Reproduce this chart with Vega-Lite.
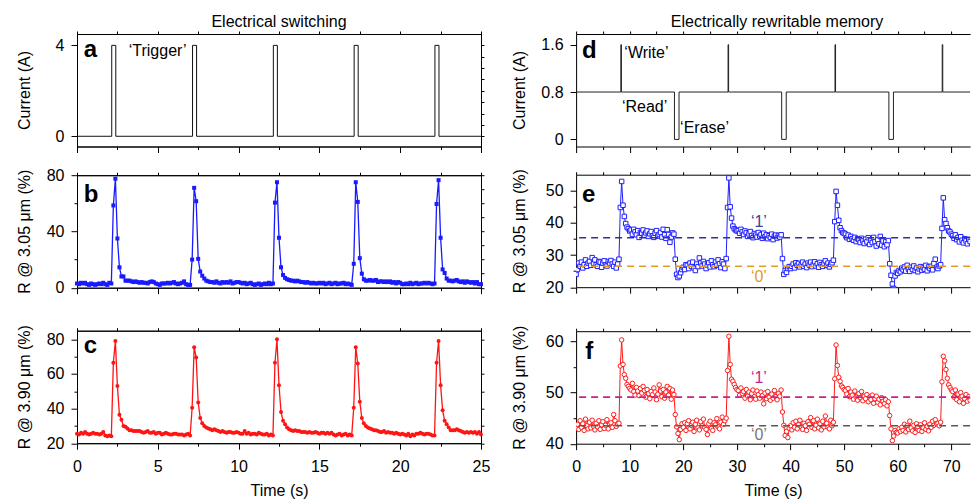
{
"$schema":"https://vega.github.io/schema/vega-lite/v6.json",
"padding":{"left":15,"top":13,"right":0,"bottom":0},
"config":{"font":"Liberation Sans","view":{"stroke":"black","strokeWidth":1},
"axis":{"labelFont":"Liberation Sans","labelFontSize":16,"titleFont":"Liberation Sans","titleFontSize":16,"titleFontWeight":"normal","labelColor":"black","titleColor":"black","domainColor":"black","tickColor":"black","grid":false,"labelFlush":false,"labelOverlap":false,"tickSize":6,"labelPadding":7,"minExtent":0},
"text":{"font":"Liberation Sans"},"title":{"font":"Liberation Sans"}},
"datasets":{
"pa":[{"t":0,"i":0},{"t":2.15,"i":4},{"t":2.4,"i":0},{"t":7.15,"i":4},{"t":7.4,"i":0},{"t":12.15,"i":4},{"t":12.4,"i":0},{"t":17.15,"i":4},{"t":17.4,"i":0},{"t":22.15,"i":4},{"t":22.4,"i":0},{"t":25,"i":0}],
"pd":[{"t":0,"i":0.8},{"t":8.35,"i":1.6},{"t":8.45,"i":0.8},{"t":18.35,"i":0},{"t":19.2,"i":0.8},{"t":28.35,"i":1.6},{"t":28.45,"i":0.8},{"t":38.35,"i":0},{"t":39.2,"i":0.8},{"t":48.3,"i":1.6},{"t":48.4,"i":0.8},{"t":58.35,"i":0},{"t":59.2,"i":0.8},{"t":68.3,"i":1.6},{"t":68.4,"i":0.8},{"t":73.5,"i":0.8}],
"lt":[
{"t":0,"b":3,"c":25.5},{"t":0.125,"b":2.5,"c":25},{"t":0.25,"b":3.5,"c":26},{"t":0.375,"b":3,"c":25.5},{"t":0.5,"b":3.5,"c":26.5},{"t":0.625,"b":2.5,"c":25.5},{"t":0.75,"b":2,"c":25},{"t":0.875,"b":3,"c":25.5},
{"t":1,"b":2.5,"c":26},{"t":1.125,"b":2,"c":25.5},{"t":1.25,"b":2.5,"c":25.5},{"t":1.375,"b":3,"c":25},{"t":1.5,"b":2.5,"c":25.5},{"t":1.625,"b":3.5,"c":26.5},{"t":1.75,"b":2.5,"c":24.5},{"t":1.875,"b":2,"c":24},
{"t":2,"b":3.5,"c":24.5},{"t":2.125,"b":3,"c":24},{"t":2.25,"b":58.5,"c":66.5},{"t":2.375,"b":77.5,"c":79},{"t":2.5,"b":35,"c":53},{"t":2.625,"b":14.5,"c":36.5},{"t":2.75,"b":8,"c":33.5},{"t":2.875,"b":8,"c":30},
{"t":3,"b":5,"c":29.5},{"t":3.125,"b":5,"c":28.5},{"t":3.25,"b":5,"c":27.5},{"t":3.375,"b":4.5,"c":27.5},{"t":3.5,"b":4,"c":27},{"t":3.625,"b":4.5,"c":27},{"t":3.75,"b":4,"c":27},{"t":3.875,"b":3.5,"c":27},
{"t":4,"b":4,"c":26.5},{"t":4.125,"b":3.5,"c":26},{"t":4.25,"b":3.5,"c":26.5},{"t":4.375,"b":3,"c":27},{"t":4.5,"b":4,"c":26},{"t":4.625,"b":4.5,"c":26},{"t":4.75,"b":4,"c":26.5},{"t":4.875,"b":3,"c":25.5},
{"t":5,"b":2.5,"c":26},{"t":5.125,"b":2,"c":26},{"t":5.25,"b":3,"c":25},{"t":5.375,"b":3,"c":25.5},{"t":5.5,"b":3,"c":26},{"t":5.625,"b":3.5,"c":25.5},{"t":5.75,"b":3,"c":25},{"t":5.875,"b":3.5,"c":25},
{"t":6,"b":4,"c":25.5},{"t":6.125,"b":3,"c":25.5},{"t":6.25,"b":2.5,"c":25},{"t":6.375,"b":3,"c":25},{"t":6.5,"b":3.5,"c":25},{"t":6.625,"b":4.5,"c":24.5},{"t":6.75,"b":2.5,"c":25},{"t":6.875,"b":2,"c":25.5},
{"t":7,"b":2,"c":24.5},{"t":7.125,"b":20,"c":40.5},{"t":7.25,"b":71,"c":75.5},{"t":7.375,"b":61.5,"c":69.5},{"t":7.5,"b":20.5,"c":43.5},{"t":7.625,"b":11.5,"c":34.5},{"t":7.75,"b":8.5,"c":31.5},{"t":7.875,"b":6.5,"c":30},
{"t":8,"b":5,"c":29},{"t":8.125,"b":4.5,"c":28.5},{"t":8.25,"b":4,"c":28},{"t":8.375,"b":4,"c":27.5},{"t":8.5,"b":3.5,"c":28},{"t":8.625,"b":4.5,"c":27.5},{"t":8.75,"b":3.5,"c":27},{"t":8.875,"b":3,"c":26.5},
{"t":9,"b":4,"c":27},{"t":9.125,"b":3.5,"c":26.5},{"t":9.25,"b":4,"c":26},{"t":9.375,"b":3.5,"c":26.5},{"t":9.5,"b":4.5,"c":26.5},{"t":9.625,"b":3,"c":26},{"t":9.75,"b":3.5,"c":26},{"t":9.875,"b":4,"c":26.5},
{"t":10,"b":4,"c":26},{"t":10.125,"b":3.5,"c":25.5},{"t":10.25,"b":3,"c":25.5},{"t":10.375,"b":3.5,"c":27},{"t":10.5,"b":2.5,"c":25.5},{"t":10.625,"b":3,"c":26},{"t":10.75,"b":3.5,"c":25},{"t":10.875,"b":2.5,"c":25.5},
{"t":11,"b":2,"c":25.5},{"t":11.125,"b":2.5,"c":25},{"t":11.25,"b":3,"c":26},{"t":11.375,"b":2,"c":25.5},{"t":11.5,"b":2.5,"c":25},{"t":11.625,"b":3,"c":25},{"t":11.75,"b":2.5,"c":25.5},{"t":11.875,"b":3.5,"c":24.5},
{"t":12,"b":2.5,"c":25},{"t":12.125,"b":3,"c":24.5},{"t":12.25,"b":60.5,"c":66.5},{"t":12.375,"b":75,"c":80},{"t":12.5,"b":35.5,"c":53.5},{"t":12.625,"b":14.5,"c":38},{"t":12.75,"b":9,"c":33},{"t":12.875,"b":7,"c":31},
{"t":13,"b":6,"c":29},{"t":13.125,"b":5.5,"c":28},{"t":13.25,"b":5,"c":27.5},{"t":13.375,"b":5,"c":27},{"t":13.5,"b":4.5,"c":27.5},{"t":13.625,"b":5,"c":27},{"t":13.75,"b":4.5,"c":27},{"t":13.875,"b":4,"c":26.5},
{"t":14,"b":4,"c":26.5},{"t":14.125,"b":3.5,"c":26.5},{"t":14.25,"b":4,"c":26},{"t":14.375,"b":3.5,"c":26.5},{"t":14.5,"b":3,"c":26},{"t":14.625,"b":3.5,"c":26},{"t":14.75,"b":3,"c":26.5},{"t":14.875,"b":3,"c":26},
{"t":15,"b":3.5,"c":25.5},{"t":15.125,"b":3,"c":26},{"t":15.25,"b":3.5,"c":26},{"t":15.375,"b":2.5,"c":25.5},{"t":15.5,"b":3,"c":26},{"t":15.625,"b":3.5,"c":25.5},{"t":15.75,"b":2.5,"c":26},{"t":15.875,"b":3,"c":25},
{"t":16,"b":3.5,"c":24.5},{"t":16.125,"b":2.5,"c":25},{"t":16.25,"b":3,"c":25.5},{"t":16.375,"b":3,"c":24.5},{"t":16.5,"b":3.5,"c":25},{"t":16.625,"b":2.5,"c":25.5},{"t":16.75,"b":3,"c":24.5},{"t":16.875,"b":2.5,"c":25},
{"t":17,"b":2,"c":24.5},{"t":17.125,"b":17,"c":40.5},{"t":17.25,"b":75,"c":75.5},{"t":17.375,"b":61,"c":66},{"t":17.5,"b":21,"c":44},{"t":17.625,"b":10,"c":34.5},{"t":17.75,"b":6,"c":31.5},{"t":17.875,"b":5,"c":30},
{"t":18,"b":5,"c":29},{"t":18.125,"b":5.5,"c":28.5},{"t":18.25,"b":5,"c":28},{"t":18.375,"b":5,"c":27.5},{"t":18.5,"b":5.5,"c":27.5},{"t":18.625,"b":4,"c":27},{"t":18.75,"b":4.5,"c":26.5},{"t":18.875,"b":4.5,"c":26.5},
{"t":19,"b":4,"c":27},{"t":19.125,"b":4.5,"c":26},{"t":19.25,"b":4,"c":26.5},{"t":19.375,"b":4.5,"c":26},{"t":19.5,"b":3.5,"c":26},{"t":19.625,"b":4,"c":25.5},{"t":19.75,"b":3,"c":26},{"t":19.875,"b":4,"c":25.5},
{"t":20,"b":3.5,"c":25},{"t":20.125,"b":2.5,"c":25.5},{"t":20.25,"b":2.5,"c":25},{"t":20.375,"b":3,"c":24.5},{"t":20.5,"b":2.5,"c":25.5},{"t":20.625,"b":3.5,"c":24},{"t":20.75,"b":2.5,"c":25},{"t":20.875,"b":3,"c":24.5},
{"t":21,"b":3.5,"c":25.5},{"t":21.125,"b":2.5,"c":25.5},{"t":21.25,"b":3,"c":26},{"t":21.375,"b":3,"c":25.5},{"t":21.5,"b":3.5,"c":25},{"t":21.625,"b":3,"c":25.5},{"t":21.75,"b":3.5,"c":25.5},{"t":21.875,"b":3,"c":25},
{"t":22,"b":2.5,"c":24.5},{"t":22.125,"b":3,"c":24.5},{"t":22.25,"b":59.5,"c":66.5},{"t":22.375,"b":76.5,"c":79},{"t":22.5,"b":35.5,"c":53.5},{"t":22.625,"b":13,"c":39},{"t":22.75,"b":10.5,"c":33},{"t":22.875,"b":6.5,"c":31},
{"t":23,"b":5,"c":29},{"t":23.125,"b":5,"c":27.5},{"t":23.25,"b":4.5,"c":27.5},{"t":23.375,"b":5,"c":27.5},{"t":23.5,"b":5.5,"c":28},{"t":23.625,"b":4.5,"c":27.5},{"t":23.75,"b":4,"c":27},{"t":23.875,"b":4.5,"c":26.5},
{"t":24,"b":3.5,"c":26},{"t":24.125,"b":4.5,"c":26.5},{"t":24.25,"b":4,"c":26},{"t":24.375,"b":3.5,"c":26.5},{"t":24.5,"b":4,"c":26},{"t":24.625,"b":3,"c":26.5},{"t":24.75,"b":4,"c":25.5},{"t":24.875,"b":2.5,"c":26.5},
{"t":25,"b":2.5,"c":25}],
"rt":[
{"t":0,"e":24,"f":43},{"t":0.25,"e":25.5,"f":43.8},{"t":0.5,"e":27.5,"f":42.8},{"t":0.75,"e":26.5,"f":44.5},{"t":1,"e":27.8,"f":43.2},{"t":1.25,"e":26,"f":43.9},{"t":1.5,"e":27,"f":42.6},{"t":1.75,"e":28.5,"f":44.8},
{"t":2,"e":26.5,"f":43.5},{"t":2.25,"e":27.5,"f":42.9},{"t":2.5,"e":28,"f":44.2},{"t":2.75,"e":26.8,"f":43.1},{"t":3,"e":29.2,"f":44.6},{"t":3.25,"e":27.5,"f":43.4},{"t":3.5,"e":28.5,"f":42.7},{"t":3.75,"e":27,"f":44},
{"t":4,"e":26.5,"f":43.3},{"t":4.25,"e":28,"f":44.5},{"t":4.5,"e":27.8,"f":42.8},{"t":4.75,"e":26.2,"f":43.7},{"t":5,"e":27.5,"f":44.3},{"t":5.25,"e":28.2,"f":43},{"t":5.5,"e":27,"f":43.6},{"t":5.75,"e":26.6,"f":44.7},
{"t":6,"e":28,"f":42.9},{"t":6.25,"e":27.5,"f":43.8},{"t":6.5,"e":28.3,"f":44.1},{"t":6.75,"e":27.2,"f":43.2},{"t":7,"e":26.5,"f":45.7},{"t":7.25,"e":27.8,"f":44.5},{"t":7.5,"e":26,"f":43.4},{"t":7.75,"e":27.2,"f":43.9},
{"t":8,"e":28.7,"f":44},{"t":8.25,"e":44.8,"f":55.2},{"t":8.5,"e":52.9,"f":60.3},{"t":8.75,"e":45.5,"f":55.5},{"t":9,"e":42,"f":53.5},{"t":9.25,"e":39.8,"f":52.8},{"t":9.5,"e":38.7,"f":51.6},{"t":9.75,"e":38.2,"f":51.2},
{"t":10,"e":37.5,"f":50.8},{"t":10.25,"e":37.8,"f":50.5},{"t":10.5,"e":36.5,"f":51.8},{"t":10.75,"e":38,"f":50.2},{"t":11,"e":37.2,"f":49.5},{"t":11.25,"e":36.3,"f":51},{"t":11.5,"e":37.6,"f":50.3},{"t":11.75,"e":35.5,"f":49.4},
{"t":12,"e":37,"f":50.8},{"t":12.25,"e":36.8,"f":49.9},{"t":12.5,"e":37.8,"f":51.2},{"t":12.75,"e":36.2,"f":50.4},{"t":13,"e":36.9,"f":49.1},{"t":13.25,"e":37.5,"f":50.6},{"t":13.5,"e":35.8,"f":49.8},{"t":13.75,"e":36.6,"f":48.8},
{"t":14,"e":37.3,"f":50.2},{"t":14.25,"e":36,"f":49.6},{"t":14.5,"e":35.5,"f":50.9},{"t":14.75,"e":36.8,"f":50.1},{"t":15,"e":37.6,"f":48.6},{"t":15.25,"e":35.9,"f":49.7},{"t":15.5,"e":36.4,"f":51.5},{"t":15.75,"e":37,"f":50.3},
{"t":16,"e":35.6,"f":49.2},{"t":16.25,"e":38,"f":50.6},{"t":16.5,"e":36.3,"f":48.9},{"t":16.75,"e":35.2,"f":50.1},{"t":17,"e":37.9,"f":51.2},{"t":17.25,"e":36.4,"f":49.5},{"t":17.5,"e":34,"f":50.8},{"t":17.75,"e":35.6,"f":48.7},
{"t":18,"e":36.9,"f":50.5},{"t":18.25,"e":36.5,"f":49.6},{"t":18.5,"e":28.7,"f":45.7},{"t":18.75,"e":24,"f":43.3},{"t":19,"e":23,"f":42},{"t":19.25,"e":23.5,"f":40.8},{"t":19.5,"e":24.5,"f":42.8},{"t":19.75,"e":25.5,"f":43.9},
{"t":20,"e":26.2,"f":43.2},{"t":20.25,"e":25.5,"f":44.1},{"t":20.5,"e":27,"f":42.6},{"t":20.75,"e":26.8,"f":43.9},{"t":21,"e":25.8,"f":44.5},{"t":21.25,"e":27.5,"f":42.9},{"t":21.5,"e":26.5,"f":43.6},{"t":21.75,"e":27.8,"f":44.2},
{"t":22,"e":26,"f":42.4},{"t":22.25,"e":25.2,"f":43.8},{"t":22.5,"e":27.2,"f":44.6},{"t":22.75,"e":26.4,"f":43.1},{"t":23,"e":29.1,"f":42.7},{"t":23.25,"e":27.5,"f":44.3},{"t":23.5,"e":26.6,"f":43.5},{"t":23.75,"e":28,"f":44.8},
{"t":24,"e":27.2,"f":43.2},{"t":24.25,"e":25.8,"f":42.8},{"t":24.5,"e":26.9,"f":41.8},{"t":24.75,"e":27.6,"f":43.9},{"t":25,"e":26.3,"f":44.4},{"t":25.25,"e":28.2,"f":43},{"t":25.5,"e":27,"f":42.6},{"t":25.75,"e":26.4,"f":44.1},
{"t":26,"e":27.8,"f":43.7},{"t":26.25,"e":26.8,"f":44.9},{"t":26.5,"e":28.5,"f":43.3},{"t":26.75,"e":27.3,"f":42.9},{"t":27,"e":26.1,"f":44.2},{"t":27.25,"e":27.9,"f":45.2},{"t":27.5,"e":27.2,"f":43.8},{"t":27.75,"e":25.8,"f":44.5},
{"t":28,"e":28.9,"f":45},{"t":28.25,"e":44.8,"f":54.3},{"t":28.5,"e":54,"f":61},{"t":28.75,"e":45,"f":55.5},{"t":29,"e":41.5,"f":52.6},{"t":29.25,"e":39,"f":52.2},{"t":29.5,"e":38.2,"f":51.6},{"t":29.75,"e":37.8,"f":51},
{"t":30,"e":37.5,"f":50.6},{"t":30.25,"e":37.6,"f":50.4},{"t":30.5,"e":36.8,"f":49.5},{"t":30.75,"e":38,"f":50.9},{"t":31,"e":37.2,"f":49.8},{"t":31.25,"e":36.4,"f":50.2},{"t":31.5,"e":37.5,"f":48.9},{"t":31.75,"e":36.9,"f":50.6},
{"t":32,"e":35.8,"f":49.3},{"t":32.25,"e":36.6,"f":50.1},{"t":32.5,"e":37.3,"f":48.6},{"t":32.75,"e":36.1,"f":49.8},{"t":33,"e":35.4,"f":50.5},{"t":33.25,"e":36.7,"f":49.2},{"t":33.5,"e":36.2,"f":48.7},{"t":33.75,"e":35.6,"f":50.3},
{"t":34,"e":37,"f":49.6},{"t":34.25,"e":35.9,"f":48.9},{"t":34.5,"e":36.4,"f":50.1},{"t":34.75,"e":35.2,"f":49.4},{"t":35,"e":36.8,"f":47.8},{"t":35.25,"e":35.7,"f":49.9},{"t":35.5,"e":36.3,"f":48.8},{"t":35.75,"e":35.1,"f":50.2},
{"t":36,"e":36,"f":49.1},{"t":36.25,"e":35.5,"f":48.5},{"t":36.5,"e":36.5,"f":49.7},{"t":36.75,"e":34.8,"f":48.9},{"t":37,"e":35.9,"f":50.4},{"t":37.25,"e":36.2,"f":49.2},{"t":37.5,"e":35.3,"f":48.6},{"t":37.75,"e":36.1,"f":49.8},
{"t":38,"e":35.6,"f":49.3},{"t":38.25,"e":36.3,"f":50.5},{"t":38.5,"e":28.9,"f":46.2},{"t":38.75,"e":24,"f":43.6},{"t":39,"e":25.2,"f":41.6},{"t":39.25,"e":24.6,"f":42.4},{"t":39.5,"e":25.8,"f":41.2},{"t":39.75,"e":26.4,"f":43},
{"t":40,"e":25.8,"f":43.5},{"t":40.25,"e":26.5,"f":42.7},{"t":40.5,"e":27.2,"f":44.1},{"t":40.75,"e":26,"f":43.2},{"t":41,"e":27.6,"f":44.4},{"t":41.25,"e":26.8,"f":42.9},{"t":41.5,"e":27.4,"f":43.7},{"t":41.75,"e":26.3,"f":44.6},
{"t":42,"e":27,"f":43.3},{"t":42.25,"e":27.8,"f":42.8},{"t":42.5,"e":26.5,"f":44},{"t":42.75,"e":27.2,"f":43.5},{"t":43,"e":26.1,"f":42.6},{"t":43.25,"e":27.5,"f":44.3},{"t":43.5,"e":26.9,"f":43.8},{"t":43.75,"e":27.8,"f":45.1},
{"t":44,"e":26.4,"f":43.2},{"t":44.25,"e":27.1,"f":44.5},{"t":44.5,"e":27.9,"f":42.9},{"t":44.75,"e":26.6,"f":43.6},{"t":45,"e":27.3,"f":44.8},{"t":45.25,"e":26.2,"f":43.1},{"t":45.5,"e":27.7,"f":43.9},{"t":45.75,"e":27,"f":42.7},
{"t":46,"e":26.5,"f":44.4},{"t":46.25,"e":27.4,"f":43.3},{"t":46.5,"e":28.2,"f":45.4},{"t":46.75,"e":26.8,"f":44},{"t":47,"e":27.5,"f":43.2},{"t":47.25,"e":26.3,"f":42.9},{"t":47.5,"e":27.1,"f":44.6},{"t":47.75,"e":27.6,"f":43.5},
{"t":48,"e":28.4,"f":44.2},{"t":48.25,"e":40.4,"f":52.7},{"t":48.5,"e":49.8,"f":59.3},{"t":48.75,"e":45.5,"f":55.3},{"t":49,"e":40.8,"f":53},{"t":49.25,"e":38.5,"f":52.2},{"t":49.5,"e":37.6,"f":51.3},{"t":49.75,"e":37,"f":51},
{"t":50,"e":36.8,"f":50.6},{"t":50.25,"e":36.5,"f":50.4},{"t":50.5,"e":35.4,"f":49.7},{"t":50.75,"e":36.2,"f":50.8},{"t":51,"e":34.9,"f":49.2},{"t":51.25,"e":35.8,"f":50.1},{"t":51.5,"e":35.1,"f":49.5},{"t":51.75,"e":34.6,"f":48.7},
{"t":52,"e":35.5,"f":50.3},{"t":52.25,"e":34.2,"f":49.1},{"t":52.5,"e":35.1,"f":48.5},{"t":52.75,"e":34.8,"f":49.8},{"t":53,"e":33.9,"f":49},{"t":53.25,"e":35.2,"f":50.2},{"t":53.5,"e":34.4,"f":48.4},{"t":53.75,"e":33.6,"f":49.3},
{"t":54,"e":34.9,"f":48.8},{"t":54.25,"e":34.1,"f":49.6},{"t":54.5,"e":35.4,"f":48.2},{"t":54.75,"e":33.3,"f":49.1},{"t":55,"e":34.6,"f":48.6},{"t":55.25,"e":33.9,"f":49.5},{"t":55.5,"e":35.5,"f":47.9},{"t":55.75,"e":34.2,"f":48.8},
{"t":56,"e":32.8,"f":49.3},{"t":56.25,"e":34.7,"f":48.1},{"t":56.5,"e":33.5,"f":48.7},{"t":56.75,"e":35.8,"f":47.6},{"t":57,"e":33.1,"f":49},{"t":57.25,"e":34.4,"f":48.3},{"t":57.5,"e":32.6,"f":47.8},{"t":57.75,"e":34.1,"f":48.6},
{"t":58,"e":33.2,"f":47.4},{"t":58.25,"e":34.5,"f":48.2},{"t":58.5,"e":27.3,"f":45.5},{"t":58.75,"e":23.7,"f":42.9},{"t":59,"e":21,"f":40.6},{"t":59.25,"e":19.6,"f":41.5},{"t":59.5,"e":23.5,"f":42.6},{"t":59.75,"e":24.6,"f":42.2},
{"t":60,"e":24.3,"f":42.1},{"t":60.25,"e":25.2,"f":42.9},{"t":60.5,"e":24.8,"f":42.4},{"t":60.75,"e":25.9,"f":43.2},{"t":61,"e":25.4,"f":42.6},{"t":61.25,"e":26.3,"f":43.8},{"t":61.5,"e":25,"f":42.3},{"t":61.75,"e":26.8,"f":43.5},
{"t":62,"e":25.6,"f":42.8},{"t":62.25,"e":24.9,"f":44.4},{"t":62.5,"e":26.2,"f":43.1},{"t":62.75,"e":25.5,"f":42.5},{"t":63,"e":26.6,"f":43.6},{"t":63.25,"e":25.2,"f":42.2},{"t":63.5,"e":26,"f":43.9},{"t":63.75,"e":24.8,"f":43.3},
{"t":64,"e":25.7,"f":42.6},{"t":64.25,"e":26.4,"f":43.7},{"t":64.5,"e":25.3,"f":42.4},{"t":64.75,"e":26.1,"f":43.1},{"t":65,"e":25.6,"f":44.1},{"t":65.25,"e":26.8,"f":42.8},{"t":65.5,"e":25.1,"f":43.4},{"t":65.75,"e":26.3,"f":42.5},
{"t":66,"e":25.8,"f":43.8},{"t":66.25,"e":26.5,"f":43.2},{"t":66.5,"e":25.4,"f":44.4},{"t":66.75,"e":27.4,"f":43.6},{"t":67,"e":28.7,"f":44.7},{"t":67.25,"e":26.2,"f":43.9},{"t":67.5,"e":25.8,"f":44},{"t":67.75,"e":26.6,"f":43.5},
{"t":68,"e":27,"f":44.2},{"t":68.25,"e":38.3,"f":52.1},{"t":68.5,"e":47.8,"f":57.1},{"t":68.75,"e":41,"f":56.2},{"t":69,"e":39.8,"f":54.5},{"t":69.25,"e":38.5,"f":52.8},{"t":69.5,"e":37.5,"f":51.5},{"t":69.75,"e":37.2,"f":51},
{"t":70,"e":36.5,"f":50.5},{"t":70.25,"e":36,"f":50.2},{"t":70.5,"e":35.2,"f":49.1},{"t":70.75,"e":36.3,"f":50.5},{"t":71,"e":34.8,"f":48.6},{"t":71.25,"e":35.5,"f":49.7},{"t":71.5,"e":34.1,"f":48.2},{"t":71.75,"e":35.7,"f":50},
{"t":72,"e":34.6,"f":49.3},{"t":72.25,"e":33.8,"f":47.9},{"t":72.5,"e":35.1,"f":48.8},{"t":72.75,"e":34.4,"f":49.6},{"t":73,"e":33.5,"f":48.3},{"t":73.25,"e":34.9,"f":49.2},{"t":73.5,"e":34.2,"f":48.5}]
},
"hconcat":[
{"spacing":26.7,
 "vconcat":[
  {"spacing":12.2,
   "vconcat":[
    {"width":404,"height":112.5,
     "title":{"text":"Electrical switching","fontSize":16,"fontWeight":"normal","color":"black","anchor":"middle","frame":"group","offset":-12,"baseline":"alphabetic"},
     "layer":[
      {"data":{"name":"pa"},"mark":{"type":"line","interpolate":"step-after","color":"#111111","strokeWidth":1},
       "encoding":{"x":{"field":"t","type":"quantitative","scale":{"domain":[0,25],"nice":false},"axis":{"orient":"bottom","values":[0,2.5,5,7.5,10,12.5,15,17.5,20,22.5,25],"labels":false,"title":null,"tickSize":{"condition":{"test":"datum.value % 5 === 0","value":6},"value":3}}},
        "y":{"field":"i","type":"quantitative","scale":{"domain":[-0.45,4.5],"nice":false},"axis":{"orient":"left","values":[0,4],"title":"Current (A)","titleX":-53,"titleY":56,"titleAngle":270,"titleBaseline":"middle"}}}},
      {"data":{"values":[{"t":0.41,"v":3.5,"s":"a"}]},"mark":{"type":"text","align":"left","baseline":"alphabetic","fontSize":24,"fontWeight":"bold","color":"black"},
       "encoding":{"x":{"field":"t","type":"quantitative","axis":{"orient":"top","values":[0,2.5,5,7.5,10,12.5,15,17.5,20,22.5,25],"labels":false,"title":null,"tickSize":3}},
        "y":{"field":"v","type":"quantitative","axis":{"orient":"right","values":[0,0.5,1,1.5,2,2.5,3,3.5,4],"labels":false,"title":null,"tickSize":3}},"text":{"field":"s"}}},
      {"data":{"values":[{"t":3.2,"v":3.55,"s":"‘Trigger’"}]},"mark":{"type":"text","align":"left","baseline":"alphabetic","fontSize":16,"color":"black"},
       "encoding":{"x":{"field":"t","type":"quantitative","axis":null},"y":{"field":"v","type":"quantitative","axis":null},"text":{"field":"s"}}}
     ],
     "resolve":{"axis":{"x":"independent","y":"independent"}}},
    {"width":404,"height":112.5,
     "layer":[
      {"data":{"name":"lt"},"mark":{"type":"line","color":"#1a1aff","strokeWidth":1.3,"point":{"shape":"square","filled":true,"size":16,"color":"#1a1aff"}},
       "encoding":{"x":{"field":"t","type":"quantitative","scale":{"domain":[0,25],"nice":false},"axis":{"orient":"bottom","values":[0,2.5,5,7.5,10,12.5,15,17.5,20,22.5,25],"labels":false,"title":null,"tickSize":{"condition":{"test":"datum.value % 5 === 0","value":6},"value":3}}},
        "y":{"field":"b","type":"quantitative","scale":{"domain":[0,80],"nice":false},"axis":{"orient":"left","values":[0,20,40,60,80],"labelExpr":"datum.value % 40 === 0 ? datum.label : ''","tickSize":{"condition":{"test":"datum.value % 40 === 0","value":6},"value":3},"title":"R @ 3.05 μm (%)","titleX":-53,"titleY":56,"titleAngle":270,"titleBaseline":"middle"}}}},
      {"data":{"values":[{"t":0.41,"v":60.7,"s":"b"}]},"mark":{"type":"text","align":"left","baseline":"alphabetic","fontSize":24,"fontWeight":"bold","color":"black"},
       "encoding":{"x":{"field":"t","type":"quantitative","axis":{"orient":"top","values":[0,2.5,5,7.5,10,12.5,15,17.5,20,22.5,25],"labels":false,"title":null,"tickSize":3}},
        "y":{"field":"v","type":"quantitative","axis":{"orient":"right","values":[0,10,20,30,40,50,60,70,80],"labels":false,"title":null,"tickSize":3}},"text":{"field":"s"}}}
     ],
     "resolve":{"axis":{"x":"independent","y":"independent"}}}
   ]},
  {"width":404,"height":112.5,
   "layer":[
    {"data":{"name":"lt"},"mark":{"type":"line","color":"#ff1414","strokeWidth":1.3,"point":{"shape":"circle","filled":true,"size":16,"color":"#ff1414"}},
     "encoding":{"x":{"field":"t","type":"quantitative","scale":{"domain":[0,25],"nice":false},"axis":{"orient":"bottom","values":[0,2.5,5,7.5,10,12.5,15,17.5,20,22.5,25],"labelExpr":"datum.value % 5 === 0 ? datum.label : ''","tickSize":{"condition":{"test":"datum.value % 5 === 0","value":6},"value":3},"labelPadding":9,"title":"Time (s)","titlePadding":8}},
      "y":{"field":"c","type":"quantitative","scale":{"domain":[20,85],"nice":false},"axis":{"orient":"left","values":[20,30,40,50,60,70,80],"labelExpr":"datum.value % 20 === 0 ? datum.label : ''","tickSize":{"condition":{"test":"datum.value % 20 === 0","value":6},"value":3},"title":"R @ 3.90 μm (%)","titleX":-53,"titleY":56,"titleAngle":270,"titleBaseline":"middle"}}}},
    {"data":{"values":[{"t":0.41,"v":72,"s":"c"}]},"mark":{"type":"text","align":"left","baseline":"alphabetic","fontSize":24,"fontWeight":"bold","color":"black"},
     "encoding":{"x":{"field":"t","type":"quantitative","axis":{"orient":"top","values":[0,2.5,5,7.5,10,12.5,15,17.5,20,22.5,25],"labels":false,"title":null,"tickSize":3}},
      "y":{"field":"v","type":"quantitative","axis":{"orient":"right","values":[20,30,40,50,60,70,80],"labels":false,"title":null,"tickSize":3}},"text":{"field":"s"}}}
   ],
   "resolve":{"axis":{"x":"independent","y":"independent"}}}
 ]},
{"spacing":28.2,
 "vconcat":[
  {"spacing":14.7,
   "vconcat":[
    {"width":394,"height":112.5,"view":{"stroke":null},
     "title":{"text":"Electrically rewritable memory","fontSize":16,"fontWeight":"normal","color":"black","anchor":"middle","frame":"group","offset":-12,"baseline":"alphabetic","dx":4},
     "layer":[
      {"data":{"name":"pd"},"mark":{"type":"line","interpolate":"step-after","color":"#222222","strokeWidth":1},
       "encoding":{"x":{"field":"t","type":"quantitative","scale":{"domain":[0,73.5],"nice":false},"axis":{"orient":"bottom","values":[0,5,10,15,20,25,30,35,40,45,50,55,60,65,70],"labels":false,"title":null,"tickSize":{"condition":{"test":"datum.value % 10 === 0","value":6},"value":3}}},
        "y":{"field":"i","type":"quantitative","scale":{"domain":[-0.12,1.78],"nice":false},"axis":{"orient":"left","values":[0,0.8,1.6],"format":"~g","title":"Current (A)","titleX":-57,"titleY":56,"titleAngle":270,"titleBaseline":"middle"}}}},
      {"data":{"values":[{"t":1.1,"v":1.375,"s":"d"}]},"mark":{"type":"text","align":"left","baseline":"alphabetic","fontSize":24,"fontWeight":"bold","color":"black"},
       "encoding":{"x":{"field":"t","type":"quantitative","axis":{"orient":"top","values":[0,5,10,15,20,25,30,35,40,45,50,55,60,65,70],"labels":false,"title":null,"tickSize":3}},
        "y":{"field":"v","type":"quantitative","axis":null},"text":{"field":"s"}}},
      {"data":{"values":[{"t":9.0,"v":1.375,"s":"‘Write’"},{"t":8.55,"v":0.47,"s":"‘Read’"},{"t":19.4,"v":0.11,"s":"‘Erase’"}]},"mark":{"type":"text","align":"left","baseline":"alphabetic","fontSize":16,"color":"black"},
       "encoding":{"x":{"field":"t","type":"quantitative","axis":null},"y":{"field":"v","type":"quantitative","axis":null},"text":{"field":"s"}}}
     ],
     "resolve":{"axis":{"x":"independent","y":"independent"}}},
    {"width":394,"height":112.5,"view":{"stroke":null},
     "layer":[
      {"data":{"name":"rt"},"mark":{"type":"line","color":"#1f1fff","strokeWidth":1,"clip":true,"point":{"shape":"square","filled":false,"fill":"white","size":20,"strokeWidth":1,"color":"#1f1fff"}},
       "encoding":{"x":{"field":"t","type":"quantitative","scale":{"domain":[0,73.5],"nice":false},"axis":{"orient":"bottom","values":[0,5,10,15,20,25,30,35,40,45,50,55,60,65,70],"labels":false,"title":null,"tickSize":{"condition":{"test":"datum.value % 10 === 0","value":6},"value":3}}},
        "y":{"field":"e","type":"quantitative","scale":{"domain":[20,55],"nice":false},"axis":{"orient":"left","values":[20,25,30,35,40,45,50],"labelExpr":"datum.value % 10 === 0 ? datum.label : ''","tickSize":{"condition":{"test":"datum.value % 10 === 0","value":6},"value":3},"title":"R @ 3.05 μm (%)","titleX":-57,"titleY":56,"titleAngle":270,"titleBaseline":"middle"}}}},
      {"data":{"values":[{"r":35.4}]},"mark":{"type":"rule","color":"#2e3590","strokeDash":[7,5],"strokeWidth":1.6},"encoding":{"y":{"field":"r","type":"quantitative","axis":null}}},
      {"data":{"values":[{"r":26.5}]},"mark":{"type":"rule","color":"#e39b22","strokeDash":[7,5],"strokeWidth":1.6},"encoding":{"y":{"field":"r","type":"quantitative","axis":null}}},
      {"data":{"values":[{"t":1.1,"v":46.4,"s":"e"}]},"mark":{"type":"text","align":"left","baseline":"alphabetic","fontSize":24,"fontWeight":"bold","color":"black"},
       "encoding":{"x":{"field":"t","type":"quantitative","axis":{"orient":"top","values":[0,5,10,15,20,25,30,35,40,45,50,55,60,65,70],"labels":false,"title":null,"tickSize":3}},
        "y":{"field":"v","type":"quantitative","axis":null},"text":{"field":"s"}}},
      {"data":{"values":[{"t":34.1,"v":38.8,"s":"‘1’"}]},"mark":{"type":"text","align":"center","baseline":"alphabetic","fontSize":16,"color":"#3a4196"},
       "encoding":{"x":{"field":"t","type":"quantitative","axis":null},"y":{"field":"v","type":"quantitative","axis":null},"text":{"field":"s"}}},
      {"data":{"values":[{"t":34.1,"v":21.7,"s":"‘0’"}]},"mark":{"type":"text","align":"center","baseline":"alphabetic","fontSize":16,"color":"#e39b22"},
       "encoding":{"x":{"field":"t","type":"quantitative","axis":null},"y":{"field":"v","type":"quantitative","axis":null},"text":{"field":"s"}}}
     ],
     "resolve":{"axis":{"x":"independent","y":"independent"}}}
   ]},
  {"width":394,"height":112.5,"view":{"stroke":null},
   "layer":[
    {"data":{"name":"rt"},"mark":{"type":"line","color":"#ff1a1a","strokeWidth":1,"clip":true,"point":{"shape":"circle","filled":false,"fill":"white","size":20,"strokeWidth":1,"color":"#ff1a1a"}},
     "encoding":{"x":{"field":"t","type":"quantitative","scale":{"domain":[0,73.5],"nice":false},"axis":{"orient":"bottom","values":[0,5,10,15,20,25,30,35,40,45,50,55,60,65,70],"labelExpr":"datum.value % 10 === 0 ? datum.label : ''","tickSize":{"condition":{"test":"datum.value % 10 === 0","value":6},"value":3},"labelPadding":9,"title":"Time (s)","titlePadding":8}},
      "y":{"field":"f","type":"quantitative","scale":{"domain":[40,62],"nice":false},"axis":{"orient":"left","values":[40,45,50,55,60],"labelExpr":"datum.value % 10 === 0 ? datum.label : ''","tickSize":{"condition":{"test":"datum.value % 10 === 0","value":6},"value":3},"title":"R @ 3.90 μm (%)","titleX":-57,"titleY":56,"titleAngle":270,"titleBaseline":"middle"}}}},
    {"data":{"values":[{"r":49.1}]},"mark":{"type":"rule","color":"#c71f8e","strokeDash":[7,5],"strokeWidth":1.6},"encoding":{"y":{"field":"r","type":"quantitative","axis":null}}},
    {"data":{"values":[{"r":43.5}]},"mark":{"type":"rule","color":"#5a5a5a","strokeDash":[7,5],"strokeWidth":1.6},"encoding":{"y":{"field":"r","type":"quantitative","axis":null}}},
    {"data":{"values":[{"t":1.7,"v":56.5,"s":"f"}]},"mark":{"type":"text","align":"left","baseline":"alphabetic","fontSize":24,"fontWeight":"bold","color":"black"},
     "encoding":{"x":{"field":"t","type":"quantitative","axis":{"orient":"top","values":[0,5,10,15,20,25,30,35,40,45,50,55,60,65,70],"labels":false,"title":null,"tickSize":3}},
      "y":{"field":"v","type":"quantitative","axis":null},"text":{"field":"s"}}},
    {"data":{"values":[{"t":34.1,"v":51.9,"s":"‘1’"}]},"mark":{"type":"text","align":"center","baseline":"alphabetic","fontSize":16,"color":"#c71f8e"},
     "encoding":{"x":{"field":"t","type":"quantitative","axis":null},"y":{"field":"v","type":"quantitative","axis":null},"text":{"field":"s"}}},
    {"data":{"values":[{"t":34.1,"v":40.7,"s":"‘0’"}]},"mark":{"type":"text","align":"center","baseline":"alphabetic","fontSize":16,"color":"#777777"},
     "encoding":{"x":{"field":"t","type":"quantitative","axis":null},"y":{"field":"v","type":"quantitative","axis":null},"text":{"field":"s"}}}
   ],
   "resolve":{"axis":{"x":"independent","y":"independent"}}}
 ]}
],
"spacing":20.1
}
